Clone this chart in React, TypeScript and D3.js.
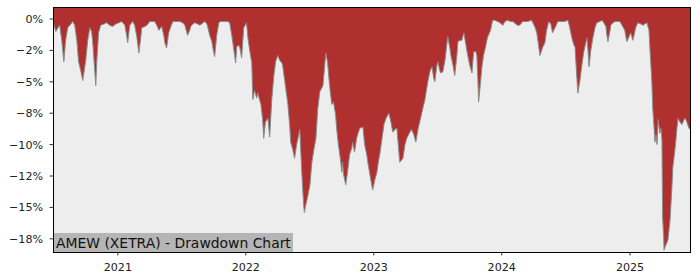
import React from "react";
import * as d3 from "d3";

const dates: string[] = [
  "2020-06-30","2020-07-02","2020-07-08","2020-07-14","2020-07-19","2020-07-25","2020-07-31","2020-08-05","2020-08-11","2020-08-20",
  "2020-08-25","2020-08-31","2020-09-06","2020-09-11","2020-09-17","2020-09-23","2020-09-28","2020-10-01","2020-10-07","2020-10-13",
  "2020-10-18","2020-10-21","2020-10-27","2020-10-30","2020-11-02","2020-11-07","2020-11-13","2020-11-22","2020-11-30","2020-12-09",
  "2020-12-17","2020-12-26","2021-01-04","2021-01-12","2021-01-21","2021-01-26","2021-01-29","2021-02-04","2021-02-12","2021-02-18",
  "2021-02-24","2021-03-02","2021-03-08","2021-03-10","2021-03-19","2021-03-25","2021-04-02","2021-04-08","2021-04-16","2021-04-22",
  "2021-04-28","2021-05-06","2021-05-12","2021-05-15","2021-05-20","2021-05-26","2021-06-01","2021-06-07","2021-06-15","2021-06-26",
  "2021-07-05","2021-07-11","2021-07-16","2021-07-19","2021-07-25","2021-07-28","2021-08-03","2021-08-08","2021-08-17","2021-08-23",
  "2021-09-01","2021-09-06","2021-09-12","2021-09-14","2021-09-20","2021-09-26","2021-10-01","2021-10-04","2021-10-10","2021-10-16",
  "2021-10-21","2021-10-27","2021-11-05","2021-11-10","2021-11-16","2021-11-22","2021-11-25","2021-11-30","2021-12-03","2021-12-06",
  "2021-12-12","2021-12-15","2021-12-20","2021-12-26","2022-01-03","2022-01-07","2022-01-12","2022-01-18","2022-01-21","2022-01-26",
  "2022-02-01","2022-02-04","2022-02-09","2022-02-13","2022-02-18","2022-02-21","2022-02-26","2022-03-05","2022-03-10","2022-03-16",
  "2022-03-22","2022-03-27","2022-04-02","2022-04-08","2022-04-14","2022-04-16","2022-04-22","2022-05-01","2022-05-06","2022-05-09",
  "2022-05-15","2022-05-20","2022-05-26","2022-06-01","2022-06-04","2022-06-10","2022-06-15","2022-06-17","2022-06-21","2022-06-26",
  "2022-07-03","2022-07-08","2022-07-14","2022-07-20","2022-07-25","2022-07-31","2022-08-09","2022-08-14","2022-08-17","2022-08-22",
  "2022-08-28","2022-09-03","2022-09-08","2022-09-14","2022-09-17","2022-09-22","2022-09-28","2022-10-02","2022-10-04","2022-10-07",
  "2022-10-13","2022-10-18","2022-10-24","2022-10-30","2022-11-02","2022-11-07","2022-11-13","2022-11-16","2022-11-22","2022-12-01",
  "2022-12-06","2022-12-12","2022-12-15","2022-12-21","2022-12-26","2022-12-29","2023-01-04","2023-01-10","2023-01-15","2023-01-18",
  "2023-01-24","2023-01-30","2023-02-05","2023-02-13","2023-02-19","2023-02-24","2023-03-02","2023-03-08","2023-03-13","2023-03-16",
  "2023-03-22","2023-03-25","2023-03-31","2023-04-05","2023-04-14","2023-04-19","2023-04-25","2023-05-01","2023-05-07","2023-05-12",
  "2023-05-21","2023-05-27","2023-06-04","2023-06-10","2023-06-16","2023-06-21","2023-06-24","2023-06-30","2023-07-03","2023-07-08",
  "2023-07-11","2023-07-17","2023-07-23","2023-07-31","2023-08-06","2023-08-09","2023-08-15","2023-08-20","2023-08-26","2023-08-29",
  "2023-09-04","2023-09-09","2023-09-15","2023-09-21","2023-09-26","2023-10-02","2023-10-08","2023-10-13","2023-10-19","2023-10-22",
  "2023-10-25","2023-10-27","2023-11-02","2023-11-05","2023-11-10","2023-11-16","2023-11-21","2023-11-30","2023-12-06","2023-12-12",
  "2023-12-20","2023-12-27","2024-01-04","2024-01-10","2024-01-18","2024-01-26","2024-02-02","2024-02-10","2024-02-15","2024-02-21",
  "2024-03-01","2024-03-07","2024-03-15","2024-03-26","2024-04-04","2024-04-10","2024-04-15","2024-04-19","2024-04-26","2024-05-03",
  "2024-05-08","2024-05-14","2024-05-20","2024-05-25","2024-06-01","2024-06-09","2024-06-18","2024-06-29","2024-07-08","2024-07-13",
  "2024-07-19","2024-07-25","2024-07-28","2024-08-01","2024-08-05","2024-08-11","2024-08-16","2024-08-22","2024-08-31","2024-09-03",
  "2024-09-06","2024-09-11","2024-09-17","2024-09-23","2024-09-28","2024-10-07","2024-10-13","2024-10-18","2024-10-24","2024-10-27",
  "2024-10-30","2024-11-05","2024-11-07","2024-11-13","2024-11-19","2024-11-27","2024-12-03","2024-12-09","2024-12-17","2024-12-20",
  "2024-12-23","2024-12-29","2025-01-03","2025-01-09","2025-01-14","2025-01-17","2025-01-23","2025-02-01","2025-02-07","2025-02-12",
  "2025-02-18","2025-02-24","2025-02-27","2025-03-04","2025-03-07","2025-03-10","2025-03-13","2025-03-16","2025-03-19","2025-03-22",
  "2025-03-27","2025-03-30","2025-04-02","2025-04-04","2025-04-07","2025-04-08","2025-04-13","2025-04-19","2025-04-22","2025-04-25",
  "2025-04-30","2025-05-03","2025-05-09","2025-05-12","2025-05-15","2025-05-18","2025-05-23","2025-05-29","2025-06-04","2025-06-07",
  "2025-06-12","2025-06-18","2025-06-21",
];

const drawdown: number[] = [
  -0.3,-0.4,-1.0,-0.7,-0.5,-1.7,-3.4,-1.7,-0.7,-0.4,
  -0.2,-0.5,-1.7,-3.4,-4.1,-4.9,-3.9,-3.4,-1.7,-0.7,
  -1.0,-1.7,-4.1,-5.3,-3.3,-1.1,-0.5,-0.4,-0.3,-0.5,
  -0.6,-0.4,-0.3,-0.2,-0.5,-1.3,-1.9,-0.5,-0.2,-0.5,
  -1.4,-2.7,-1.3,-0.7,-0.6,-0.5,-0.2,-0.2,-0.2,-0.5,
  -0.9,-0.6,-1.3,-1.9,-2.3,-1.1,-0.6,-0.2,-0.2,-0.2,
  -0.3,-0.5,-1.0,-1.3,-0.9,-0.6,-0.4,-0.3,-0.4,-0.5,
  -0.3,-0.2,-0.4,-0.6,-1.3,-1.8,-2.6,-3.0,-1.3,-0.3,
  -0.2,-0.2,-0.2,-0.2,-0.3,-1.3,-1.9,-2.9,-3.5,-2.2,
  -2.1,-2.3,-3.1,-0.7,-0.3,-1.5,-2.5,-3.5,-6.4,-5.7,
  -6.3,-5.9,-6.4,-6.8,-8.0,-9.5,-8.2,-7.9,-9.4,-6.4,
  -4.5,-3.4,-2.9,-3.3,-3.5,-3.7,-4.9,-6.8,-8.4,-9.8,
  -10.4,-11.1,-10.0,-9.2,-8.8,-12.4,-14.8,-15.4,-14.8,-14.2,
  -13.2,-11.5,-10.4,-9.5,-7.2,-5.8,-5.3,-3.7,-2.7,-3.4,
  -5.3,-6.8,-6.6,-7.6,-8.7,-10.0,-11.2,-12.2,-11.4,-12.4,
  -13.2,-12.2,-10.8,-10.3,-9.8,-10.6,-9.5,-9.2,-8.7,-8.6,
  -10.0,-10.8,-11.4,-12.4,-13.2,-13.6,-12.8,-12.2,-11.2,-10.8,
  -9.6,-8.4,-7.9,-7.5,-8.2,-9.0,-8.8,-8.7,-10.4,-11.4,
  -11.2,-11.1,-10.0,-9.5,-9.0,-8.8,-9.2,-9.8,-8.8,-8.2,
  -7.1,-6.4,-5.0,-4.2,-3.8,-4.7,-5.0,-3.7,-3.4,-4.1,
  -4.3,-4.2,-3.3,-1.4,-2.3,-2.9,-3.7,-4.5,-2.9,-1.8,
  -1.7,-1.7,-1.1,-2.1,-2.9,-3.7,-4.3,-2.6,-2.6,-2.9,
  -4.9,-6.6,-4.9,-3.9,-2.9,-2.2,-1.5,-0.9,-0.1,-0.1,
  -0.2,-0.3,-0.5,-0.2,-0.1,-0.2,-0.2,-0.4,-0.5,-0.5,
  -0.2,-0.2,-0.2,-0.1,-0.6,-1.1,-2.1,-2.9,-2.3,-1.9,
  -0.9,-0.2,-0.4,-1.1,-0.7,-0.2,-0.2,-0.2,-0.1,-0.7,
  -1.5,-2.1,-2.2,-4.1,-5.9,-4.9,-3.8,-2.6,-1.5,-2.5,
  -3.8,-2.5,-1.5,-0.7,-0.3,-0.2,-0.1,-0.3,-0.6,-1.3,
  -1.8,-0.9,-0.5,-0.3,-0.2,-0.2,-0.2,-0.5,-0.9,-1.4,
  -1.8,-1.4,-1.1,-1.7,-1.1,-0.7,-0.3,-0.4,-0.5,-0.4,
  -0.3,-0.9,-2.5,-4.9,-7.2,-8.4,-9.8,-9.2,-10.0,-8.0,
  -9.1,-8.7,-9.6,-15.8,-17.4,-18.4,-18.0,-17.6,-16.8,-16.0,
  -13.6,-11.8,-10.4,-9.6,-8.6,-7.9,-8.2,-8.4,-8.0,-7.9,
  -8.2,-8.7,-8.8,
];

const xDomain: string[] = ["2020-06-30", "2025-06-21"];
const yDomain: number[] = [-18.55, 0.955];
const yTicks: number[] = [0, -2.5, -5, -7.5, -10, -12.5, -15, -17.5];
const yTickLabels: string[] = ["0%", "\u22122%", "\u22125%", "\u22128%", "\u221210%", "\u221212%", "\u221215%", "\u221218%"];
const xTickDates: string[] = ["2021-01-01", "2022-01-01", "2023-01-01", "2024-01-01", "2025-01-01"];
const xTickLabels: string[] = ["2021", "2022", "2023", "2024", "2025"];
const title = "AMEW (XETRA) - Drawdown Chart";

const FONT = "DejaVu Sans, Verdana, sans-serif";

export default function App() {
  const W = 700, H = 280;
  const L = 53, R = 690, T = 7, B = 252;
  const parse = d3.utcParse("%Y-%m-%d");
  const data = dates.map((d, i) => ({ date: parse(d) as Date, v: drawdown[i] }));
  const x = d3.scaleUtc().domain(xDomain.map((d) => parse(d) as Date)).range([L, R]);
  const y = d3.scaleLinear().domain(yDomain).range([B, T]);

  const area = d3
    .area<{ date: Date; v: number }>()
    .x((d) => x(d.date))
    .y0(B)
    .y1((d) => y(d.v));
  const line = d3
    .line<{ date: Date; v: number }>()
    .x((d) => x(d.date))
    .y((d) => y(d.v));

  return (
    <svg
      width={W}
      height={H}
      style={{ position: "fixed", left: 0, top: 0, background: "#fff" }}
      fontFamily={FONT}
    >
      <defs>
        <clipPath id="plotclip">
          <rect x={L} y={T} width={R - L} height={B - T} />
        </clipPath>
      </defs>
      <g clipPath="url(#plotclip)">
        <rect x={L} y={T} width={R - L} height={B - T} fill="#b03030" />
        <path d={area(data) || ""} fill="#ededed" />
        <path d={line(data) || ""} fill="none" stroke="#8a8a8a" strokeWidth={1} />
      </g>
      <rect x={L} y={233} width={240} height={B - 233} fill="#b5b5b5" />
      <text x={56} y={247.5} fontSize={13.9} fill="#111">
        {title}
      </text>
      <rect
        x={L}
        y={T}
        width={R - L}
        height={B - T}
        fill="none"
        stroke="#000"
        strokeWidth={1}
        shapeRendering="crispEdges"
      />
      {yTicks.map((t, i) => (
        <g key={"y" + i}>
          <line x1={L - 3.5} x2={L} y1={y(t)} y2={y(t)} stroke="#000" strokeWidth={0.8} />
          <text x={43} y={y(t)} dy="0.36em" textAnchor="end" fontSize={11.1} fill="#222">
            {yTickLabels[i]}
          </text>
        </g>
      ))}
      {xTickDates.map((d, i) => {
        const px = x(parse(d) as Date);
        return (
          <g key={"x" + i}>
            <line x1={px} x2={px} y1={B} y2={B + 3.5} stroke="#000" strokeWidth={0.8} />
            <text x={px} y={271} textAnchor="middle" fontSize={11.1} fill="#222">
              {xTickLabels[i]}
            </text>
          </g>
        );
      })}
    </svg>
  );
}
